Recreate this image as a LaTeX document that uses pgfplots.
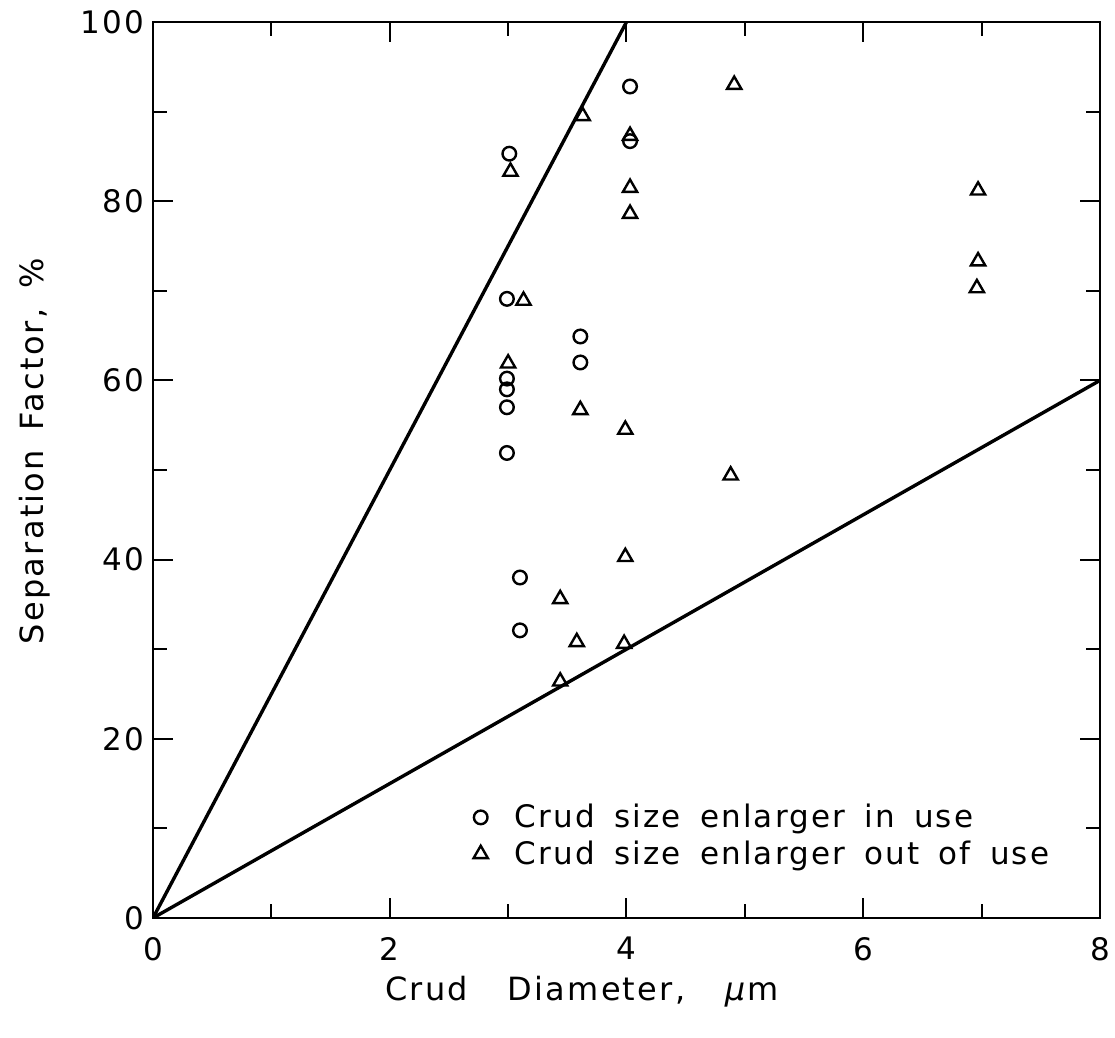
\documentclass[border=0pt]{standalone}
\usepackage{fontspec}
\setmainfont{DejaVu Sans}[LetterSpace=7, WordSpace=1.6]
\usepackage{pgfplots}
\pgfplotsset{compat=1.18}
\begin{document}
\begin{tikzpicture}
\path[use as bounding box] (-76.5pt,-60pt) rectangle (481pt,459pt);
\begin{axis}[
  at={(0pt,0pt)}, anchor=south west,
  scale only axis, width=473.5pt, height=448pt,
  xmin=0, xmax=8, ymin=0, ymax=100,
  xtick={0,2,...,8}, ytick={0,20,...,100},
  minor xtick={1,3,5,7}, minor ytick={10,30,50,70,90},
  tick align=inside, major tick length=10pt, minor tick length=7pt,
  every tick/.style={black, line width=1pt},
  axis line style={line width=1.3pt},
  tick label style={font=\fontsize{15.5}{18}\selectfont},
  /pgf/number format/assume math mode=true,
  xticklabel style={yshift=-6pt},
  yticklabel style={xshift=-1pt},
  label style={font=\fontsize{16}{19}\selectfont},
  xlabel={Crud\ \ Diameter,\ \ \textit{μ}m},
  ylabel={Separation Factor, \%},
  xlabel style={at={(axis description cs:0.453,-0.0826)}, anchor=center},
  ylabel style={at={(axis description cs:-0.1246,0.521)}, anchor=center},
  legend style={draw=none, fill=none, inner sep=0pt, at={(axis cs:2.63,13.2)}, anchor=north west,
    font=\fontsize{15.5}{18.5}\selectfont, row sep=1pt},
  legend cell align=left,
  legend image code/.code={\path[draw=none] (0pt,0pt) -- (23pt,0pt); \draw[#1, only marks, mark repeat=2, mark phase=2] plot coordinates {(0pt,0pt) (8pt,0pt) (16pt,0pt)};},
]
\addplot[forget plot, line width=1.7pt] coordinates {(0,0) (4,100)};
\addplot[forget plot, line width=1.7pt] coordinates {(0,0) (8,60)};
\addplot[only marks, mark=o, mark size=3.4pt, mark options={line width=1.2pt}] coordinates {
(3.01,85.3) (2.99,69.1) (2.99,60.2) (2.99,59.0) (2.99,57.0) (2.99,51.9)
(3.10,38.0) (3.10,32.1) (3.61,64.9) (3.61,62.0) (4.03,92.8) (4.03,86.7)
};
\addlegendentry{Crud size enlarger in use}
\addplot[only marks, mark=triangle, mark size=4.1pt, mark options={line width=1.2pt}] coordinates {
(3.02,83.3) (3.63,89.5) (4.03,87.3) (4.03,81.5) (4.03,78.6) (4.91,93.0)
(6.97,81.2) (6.97,73.3) (6.96,70.3) (3.13,68.9) (3.00,61.9) (3.61,56.7)
(3.99,54.5) (4.88,49.4) (3.44,35.6) (3.58,30.8) (3.98,30.6) (3.99,40.3) (3.44,26.4)
};
\addlegendentry{Crud size enlarger out of use}
\end{axis}
\end{tikzpicture}
\end{document}
